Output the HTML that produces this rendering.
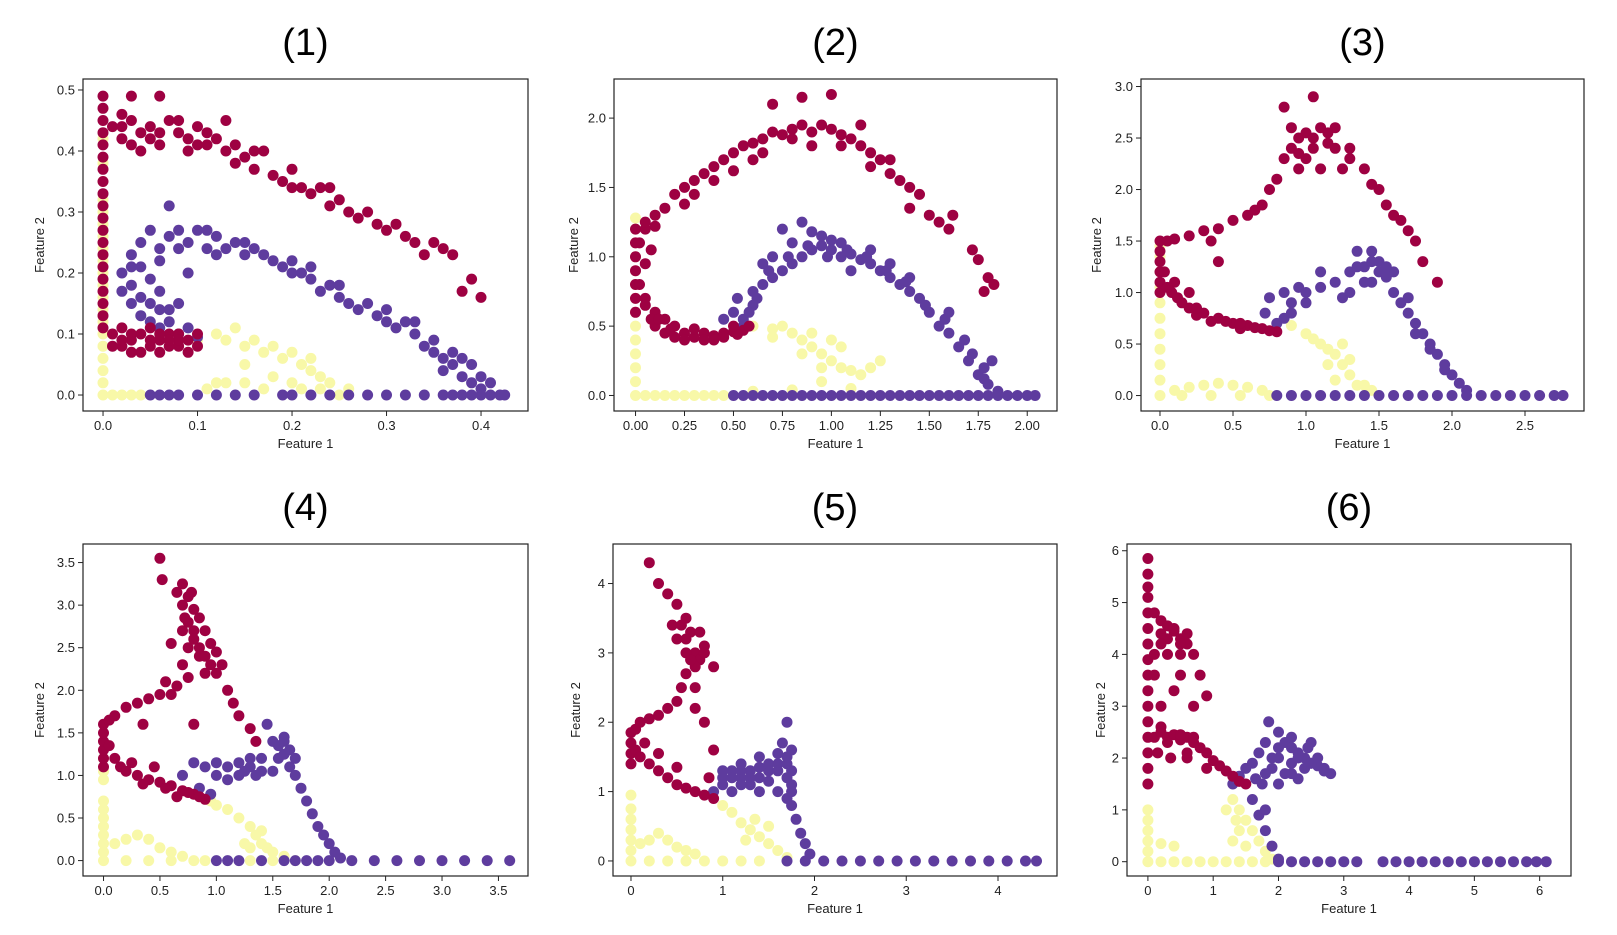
<!DOCTYPE html>
<html><head><meta charset="utf-8"><style>
body{margin:0;background:#fff;}
svg{display:block;font-family:"Liberation Sans",sans-serif;}
</style></head><body>
<svg id="fig" width="1617" height="935" xmlns="http://www.w3.org/2000/svg"></svg>
<script>
// ---------- data (Feature 1, Feature 2) per panel & class ----------
const p1Red=[[0,0.49],[0,0.47],[0,0.45],[0,0.43],[0,0.41],[0,0.39],[0,0.37],[0,0.35],[0,0.33],[0,0.31],[0,0.29],[0,0.27],[0,0.25],[0,0.23],[0,0.21],[0,0.19],[0,0.17],[0,0.15],[0,0.13],[0,0.11],
[0.01,0.44],[0.02,0.42],[0.03,0.45],[0.04,0.43],[0.05,0.44],[0.06,0.41],[0.07,0.45],[0.08,0.43],[0.09,0.42],[0.1,0.44],[0.11,0.41],[0.12,0.42],[0.13,0.4],[0.14,0.38],[0.15,0.39],[0.16,0.37],[0.17,0.4],[0.18,0.36],[0.19,0.35],[0.2,0.37],[0.21,0.34],[0.22,0.33],[0.23,0.34],[0.24,0.31],[0.25,0.32],[0.26,0.3],[0.27,0.29],[0.28,0.3],[0.3,0.27],[0.31,0.28],[0.32,0.26],[0.33,0.25],[0.35,0.25],[0.36,0.24],[0.37,0.23],[0.4,0.16],[0.39,0.19],[0.38,0.17],[0.06,0.49],[0.03,0.49],[0.13,0.45],[0.02,0.46],[0.04,0.4],[0.1,0.41],[0.16,0.4],[0.2,0.34],[0.24,0.34],[0.29,0.28],[0.34,0.23],
[0.02,0.44],[0.05,0.42],[0.08,0.45],[0.11,0.43],[0.14,0.41],[0.03,0.41],[0.06,0.43],[0.09,0.4],
[0.01,0.1],[0.02,0.08],[0.03,0.09],[0.04,0.1],[0.05,0.08],[0.06,0.09],[0.07,0.1],[0.08,0.08],[0.09,0.09],[0.1,0.1],[0.02,0.11],[0.05,0.11],[0.07,0.08],[0.04,0.07],[0.09,0.07],[0.03,0.1],[0.06,0.1],[0.08,0.1],
[0.01,0.08],[0.03,0.07],[0.06,0.07],[0.08,0.09],[0.1,0.08],[0.02,0.09],[0.05,0.09],[0.07,0.09]];
const p1Purple=[[0.02,0.2],[0.03,0.23],[0.02,0.17],[0.03,0.15],[0.04,0.13],[0.05,0.12],[0.06,0.11],[0.08,0.1],[0.1,0.095],[0.04,0.25],[0.05,0.27],[0.06,0.22],[0.07,0.26],[0.07,0.31],[0.08,0.24],[0.09,0.25],[0.1,0.27],[0.11,0.24],[0.12,0.26],[0.13,0.24],[0.14,0.25],[0.15,0.23],[0.16,0.24],[0.17,0.23],[0.18,0.22],[0.19,0.21],[0.2,0.2],[0.21,0.2],[0.22,0.19],[0.23,0.17],[0.24,0.18],[0.25,0.16],[0.26,0.15],[0.27,0.14],[0.28,0.15],[0.29,0.13],[0.3,0.12],[0.31,0.11],[0.32,0.12],[0.33,0.1],[0.34,0.08],[0.35,0.07],[0.36,0.06],[0.37,0.05],[0.38,0.03],[0.39,0.02],[0.4,0.01],[0.06,0.17],[0.08,0.15],[0.05,0.19],[0.09,0.2],[0.04,0.21],[0.07,0.14],[0.03,0.18],[0.11,0.27],[0.2,0.22],[0.36,0.04],[0.39,0.05],
[0.04,0.16],[0.05,0.15],[0.06,0.14],[0.07,0.12],[0.09,0.11],[0.03,0.21],[0.06,0.24],[0.08,0.27],[0.12,0.23],[0.15,0.25],[0.22,0.21],[0.25,0.18],[0.3,0.14],[0.33,0.12],[0.35,0.09],[0.37,0.07],[0.38,0.06],[0.4,0.03],[0.41,0.02],
[0.05,0],[0.06,0],[0.07,0],[0.08,0],[0.1,0],[0.12,0],[0.14,0],[0.16,0],[0.19,0],[0.2,0],[0.22,0],[0.24,0],[0.26,0],[0.28,0],[0.3,0],[0.32,0],[0.34,0],[0.36,0],[0.37,0],[0.38,0],[0.39,0],[0.4,0],[0.41,0],[0.42,0],[0.425,0]];
const p1Yellow=[[0,0],[0,0.02],[0,0.04],[0,0.06],[0,0.08],[0,0.1],[0,0.12],[0,0.14],[0,0.16],[0,0.18],[0,0.2],[0,0.22],[0,0.24],[0,0.26],[0,0.28],[0,0.3],[0,0.32],[0,0.35],[0,0.38],[0,0.42],
[0.01,0],[0.02,0],[0.03,0],[0.04,0],[0.11,0.01],[0.13,0.02],[0.15,0.02],[0.17,0.01],[0.21,0.01],[0.23,0.01],[0.25,0],
[0.1,0.09],[0.12,0.1],[0.13,0.09],[0.14,0.11],[0.15,0.08],[0.16,0.09],[0.17,0.07],[0.18,0.08],[0.19,0.06],[0.2,0.07],[0.21,0.05],[0.22,0.04],[0.23,0.03],[0.24,0.02],[0.2,0.02],[0.15,0.05],[0.12,0.02],[0.18,0.03],[0.22,0.06],[0.26,0.01]];

const p2Red=[[0.02,1.1],[0.05,1.2],[0.1,1.3],[0.15,1.35],[0.2,1.45],[0.25,1.5],[0.3,1.55],[0.35,1.6],[0.4,1.65],[0.45,1.7],[0.5,1.75],[0.55,1.8],[0.6,1.82],[0.65,1.85],[0.7,1.9],[0.75,1.88],[0.8,1.92],[0.85,1.95],[0.9,1.9],[0.95,1.95],[1.0,1.92],[1.05,1.88],[1.1,1.85],[1.15,1.8],[1.2,1.75],[1.25,1.7],[1.3,1.6],[1.35,1.55],[1.4,1.5],[1.45,1.45],[1.5,1.3],[1.55,1.25],[1.6,1.2],[1.62,1.3],[1.72,1.05],[1.75,0.98],[1.8,0.85],[1.83,0.8],[0.7,2.1],[0.85,2.15],[1.0,2.17],[0.6,1.7],[0.4,1.55],[0.9,1.8],[1.15,1.95],[1.3,1.7],[0.25,1.38],[0.5,1.62],[1.78,0.75],[0.05,1.25],[0.1,1.22],[0.08,1.05],[0.3,1.45],[0.65,1.75],[0.8,1.85],[1.05,1.8],[1.2,1.65],[1.4,1.35],
[0,0.6],[0,0.7],[0,0.8],[0,0.9],[0,1.0],[0,1.1],[0,1.2],[0.02,0.8],[0.05,0.7],[0.1,0.6],[0.15,0.55],[0.2,0.5],[0.25,0.45],[0.3,0.42],[0.35,0.45],[0.4,0.43],[0.45,0.45],[0.5,0.46],[0.55,0.47],[0.58,0.5],[0.1,0.5],[0.2,0.42],[0.3,0.48],[0.15,0.45],[0.4,0.4],[0.05,0.95],[0.08,0.55],[0.52,0.44],
[0.25,0.4],[0.35,0.4],[0.45,0.42],[0.5,0.5],[0.12,0.55],[0.18,0.48],[0.05,0.65]];
const p2Purple=[[0.55,0.5],[0.5,0.6],[0.52,0.7],[0.6,0.75],[0.65,0.8],[0.7,0.85],[0.75,0.9],[0.8,0.95],[0.85,1.0],[0.9,1.05],[0.95,1.08],[1.0,1.05],[1.05,1.0],[1.1,1.02],[1.15,0.98],[1.2,0.95],[1.25,0.9],[1.3,0.85],[1.35,0.8],[1.4,0.75],[1.45,0.7],[1.5,0.6],[1.55,0.5],[1.6,0.45],[1.65,0.35],[1.7,0.25],[1.75,0.15],[1.8,0.08],[1.85,0.03],[0.75,1.2],[0.85,1.25],[0.95,1.15],[0.7,1.0],[0.6,0.65],[0.8,1.1],[1.1,0.9],[1.3,0.95],[0.45,0.55],[0.65,0.95],[1.0,1.12],[1.2,1.05],[1.4,0.85],[1.6,0.6],[1.68,0.4],[1.78,0.2],[1.82,0.25],[0.9,1.18],[1.05,1.1],
[0.55,0.55],[0.58,0.6],[0.62,0.7],[0.68,0.9],[0.78,1.0],[0.88,1.08],[0.98,1.0],[1.08,1.05],[1.18,1.0],[1.28,0.9],[1.38,0.82],[1.48,0.65],[1.58,0.55],[1.72,0.3],[1.78,0.12],
[0.5,0],[0.55,0],[0.6,0],[0.65,0],[0.7,0],[0.75,0],[0.8,0],[0.85,0],[0.9,0],[0.95,0],[1.0,0],[1.05,0],[1.1,0],[1.15,0],[1.2,0],[1.25,0],[1.3,0],[1.35,0],[1.4,0],[1.45,0],[1.5,0],[1.55,0],[1.6,0],[1.65,0],[1.7,0],[1.75,0],[1.8,0],[1.85,0],[1.9,0],[1.95,0],[2.0,0],[2.04,0]];
const p2Yellow=[[0,0],[0,0.1],[0,0.2],[0,0.3],[0,0.4],[0,0.5],[0,0.6],[0,0.7],[0,0.8],[0,0.9],[0,1.0],[0,1.1],[0,1.2],[0,1.28],[0.05,0],[0.1,0],[0.15,0],[0.2,0],[0.25,0],[0.3,0],[0.35,0],[0.4,0],[0.45,0],
[0.6,0.5],[0.7,0.48],[0.75,0.5],[0.8,0.45],[0.85,0.4],[0.9,0.35],[0.95,0.3],[1.0,0.25],[1.05,0.2],[1.1,0.18],[1.15,0.15],[1.2,0.2],[0.9,0.45],[1.0,0.4],[0.7,0.42],[1.05,0.35],[1.25,0.25],[0.6,0.03],[0.8,0.04],[0.95,0.1],[1.1,0.05],[0.85,0.3],[0.95,0.2]];

const p3Red=[[0,1.0],[0,1.1],[0,1.2],[0,1.3],[0,1.4],[0,1.5],[0.05,1.5],[0.1,1.52],[0.2,1.55],[0.3,1.6],[0.4,1.62],[0.5,1.7],[0.6,1.75],[0.7,1.85],[0.75,2.0],[0.8,2.1],[0.85,2.3],[0.9,2.4],[0.95,2.5],[1.0,2.55],[1.05,2.5],[1.1,2.6],[1.15,2.45],[1.2,2.4],[1.3,2.3],[1.4,2.2],[1.5,2.0],[1.55,1.85],[1.6,1.75],[1.7,1.6],[1.75,1.5],[1.8,1.3],[1.9,1.1],[0.85,2.8],[1.05,2.9],[0.9,2.6],[1.0,2.3],[1.2,2.6],[0.95,2.2],[1.1,2.2],[1.25,2.2],[1.45,2.05],[0.65,1.8],[0.35,1.5],[1.65,1.7],
[1.05,2.4],[1.15,2.55],[0.95,2.35],[1.3,2.4],
[0.03,1.2],[0.08,1.0],[0.12,0.95],[0.2,0.85],[0.3,0.8],[0.4,0.75],[0.5,0.7],[0.6,0.68],[0.7,0.65],[0.8,0.62],[0.15,0.9],[0.25,0.78],[0.45,0.72],[0.55,0.65],[0.35,0.72],[0.1,1.1],[0.2,1.0],[0.4,1.3],
[0.55,0.7],[0.65,0.66],[0.75,0.63],[0.25,0.85],[0.05,1.05]];
const p3Purple=[[0.8,0.7],[0.72,0.8],[0.75,0.95],[0.85,1.0],[0.95,1.05],[1.0,1.0],[1.1,1.05],[1.2,1.1],[1.3,1.2],[1.4,1.25],[1.45,1.3],[1.5,1.2],[1.55,1.15],[1.6,1.0],[1.65,0.9],[1.7,0.8],[1.75,0.7],[1.8,0.6],[1.85,0.5],[1.9,0.4],[1.95,0.3],[2.0,0.2],[2.05,0.12],[2.1,0.05],[0.9,0.9],[1.1,1.2],[1.35,1.4],[1.45,1.1],[1.25,0.95],[0.85,0.75],[1.6,1.2],[1.7,0.95],
[1.3,1.0],[1.4,1.1],[1.5,1.3],[1.55,1.25],[1.35,1.25],[1.45,1.4],[1.75,0.6],[1.85,0.45],[1.95,0.25],[1.0,0.9],[0.9,0.8],
[0.8,0],[0.9,0],[1.0,0],[1.1,0],[1.2,0],[1.3,0],[1.4,0],[1.5,0],[1.6,0],[1.7,0],[1.8,0],[1.9,0],[2.0,0],[2.1,0],[2.2,0],[2.3,0],[2.4,0],[2.5,0],[2.6,0],[2.7,0],[2.76,0]];
const p3Yellow=[[0,0],[0,0.15],[0,0.3],[0,0.45],[0,0.6],[0,0.75],[0,0.9],[0,1.05],[0,1.2],[0,1.35],[0,1.45],[0.1,0.05],[0.2,0.08],[0.3,0.1],[0.4,0.12],[0.5,0.1],[0.6,0.08],[0.7,0.05],[0.15,0],[0.35,0],[0.55,0],[0.75,0],
[0.9,0.68],[1.0,0.6],[1.05,0.55],[1.1,0.5],[1.15,0.45],[1.2,0.4],[1.25,0.3],[1.3,0.2],[1.35,0.1],[1.15,0.3],[1.25,0.5],[1.3,0.35],[1.4,0.1],[1.45,0.05],[1.2,0.15]];

const p4Red=[[0,1.1],[0,1.2],[0,1.3],[0,1.4],[0,1.5],[0,1.6],[0.05,1.65],[0.1,1.7],[0.2,1.8],[0.3,1.85],[0.4,1.9],[0.5,1.95],[0.6,1.95],[0.65,2.05],[0.7,2.3],[0.75,2.5],[0.8,2.7],[0.7,3.0],[0.65,3.15],[0.7,3.25],[0.75,3.1],[0.8,2.95],[0.85,2.85],[0.9,2.7],[0.95,2.55],[1.0,2.45],[1.05,2.3],[0.9,2.2],[0.85,2.4],[0.5,3.55],[0.52,3.3],[1.1,2.0],[1.15,1.85],[1.2,1.7],[1.3,1.55],[1.35,1.4],[1.0,2.2],[0.75,2.15],[0.6,2.55],[0.55,2.1],[0.35,1.6],[0.8,1.6],
[0.75,2.8],[0.8,2.6],[0.85,2.5],[0.9,2.4],[0.95,2.3],[0.7,2.7],[0.78,3.15],[0.72,2.85],
[0.05,1.35],[0.1,1.2],[0.15,1.1],[0.2,1.05],[0.3,1.0],[0.4,0.95],[0.5,0.92],[0.6,0.88],[0.7,0.82],[0.8,0.78],[0.9,0.72],[0.25,1.15],[0.45,1.1],[0.35,0.9],[0.65,0.75],
[0.55,0.85],[0.75,0.8],[0.85,0.75]];
const p4Purple=[[0.7,1.0],[0.8,1.15],[0.9,1.1],[1.0,1.15],[1.1,1.1],[1.2,1.15],[1.3,1.1],[1.4,1.2],[1.5,1.4],[1.55,1.35],[1.6,1.25],[1.65,1.1],[1.7,1.0],[1.75,0.85],[1.8,0.7],[1.85,0.55],[1.9,0.4],[1.95,0.3],[2.0,0.2],[2.05,0.1],[2.1,0.03],[1.35,1.0],[0.85,0.85],[1.1,0.95],[0.95,0.78],[1.45,1.6],[1.25,1.05],[1.6,1.45],[1.5,1.05],
[1.55,1.2],[1.6,1.4],[1.65,1.3],[1.7,1.2],[1.0,1.0],[1.2,1.0],[1.4,1.05],[1.3,1.2],
[1.0,0],[1.1,0],[1.2,0],[1.4,0],[1.6,0],[1.7,0],[1.8,0],[1.9,0],[2.0,0],[2.2,0],[2.4,0],[2.6,0],[2.8,0],[3.0,0],[3.2,0],[3.4,0],[3.6,0]];
const p4Yellow=[[0,0],[0,0.1],[0,0.2],[0,0.3],[0,0.4],[0,0.5],[0,0.6],[0,0.7],[0,0.95],[0,1.05],[0,1.2],[0.1,0.2],[0.2,0.25],[0.3,0.3],[0.4,0.25],[0.5,0.15],[0.6,0.1],[0.7,0.05],[0.2,0],[0.4,0],[0.6,0],[0.8,0],[0.9,0],[1.3,0],[1.5,0],[1.7,0],
[0.95,0.7],[1.0,0.65],[1.1,0.6],[1.2,0.5],[1.3,0.4],[1.35,0.3],[1.4,0.2],[1.45,0.15],[1.5,0.1],[1.4,0.35],[1.6,0.05],[1.3,0.15],[1.25,0.2]];

const p5Red=[[0,1.4],[0,1.55],[0,1.7],[0,1.85],[0.05,1.9],[0.1,2.0],[0.2,2.05],[0.3,2.1],[0.4,2.2],[0.5,2.3],[0.55,2.5],[0.6,2.7],[0.7,3.0],[0.8,3.1],[0.75,2.9],[0.6,3.5],[0.5,3.7],[0.4,3.85],[0.3,4.0],[0.2,4.3],[0.5,3.2],[0.7,2.5],[0.8,2.0],[0.9,1.6],[0.85,1.2],[0.65,3.3],[0.45,3.4],[0.6,3.0],[0.7,2.2],[0.9,2.8],
[0.6,3.2],[0.7,2.8],[0.55,3.4],[0.65,2.9],[0.75,3.3],[0.8,3.0],
[0.05,1.6],[0.1,1.5],[0.2,1.4],[0.3,1.3],[0.4,1.2],[0.5,1.1],[0.6,1.05],[0.7,1.0],[0.8,0.95],[0.9,0.9],[0.15,1.7],[0.3,1.55],[0.5,1.35]];
const p5Purple=[[0.9,1.0],[1.0,1.1],[1.1,1.3],[1.2,1.2],[1.3,1.3],[1.4,1.35],[1.5,1.3],[1.6,1.4],[1.7,1.5],[1.75,1.3],[1.75,1.1],[1.7,0.9],[1.6,1.0],[1.5,1.15],[1.3,1.1],[1.1,1.0],[1.2,1.4],[1.4,1.5],[1.65,1.7],[1.75,1.6],[1.7,2.0],[1.75,0.8],[1.8,0.6],[1.85,0.4],[1.9,0.25],[1.95,0.1],[1.0,1.3],[1.6,1.55],
[1.0,1.2],[1.1,1.2],[1.2,1.3],[1.3,1.2],[1.4,1.2],[1.5,1.4],[1.6,1.3],[1.7,1.2],[1.75,1.0],[1.7,1.4],[1.2,1.1],[1.4,1.0],
[1.7,0],[1.9,0],[2.1,0],[2.3,0],[2.5,0],[2.7,0],[2.9,0],[3.1,0],[3.3,0],[3.5,0],[3.7,0],[3.9,0],[4.1,0],[4.3,0],[4.42,0]];
const p5Yellow=[[0,0],[0,0.15],[0,0.3],[0,0.45],[0,0.6],[0,0.75],[0,0.95],[0.1,0.25],[0.2,0.3],[0.3,0.4],[0.4,0.3],[0.5,0.2],[0.6,0.15],[0.7,0.1],[0.2,0],[0.4,0],[0.6,0],[0.8,0],[1.0,0],[1.2,0],[1.4,0],
[1.0,0.8],[1.1,0.7],[1.2,0.55],[1.3,0.45],[1.4,0.35],[1.5,0.25],[1.6,0.15],[1.7,0.05],[1.35,0.6],[1.5,0.5],[1.25,0.3]];

const p6Red=[[0,1.5],[0,1.8],[0,2.1],[0,2.4],[0,2.7],[0,3.0],[0,3.3],[0,3.6],[0,3.9],[0,4.2],[0,4.5],[0,4.8],[0,5.1],[0,5.3],[0,5.55],[0,5.85],
[0.1,4.8],[0.2,4.65],[0.3,4.55],[0.4,4.45],[0.5,4.3],[0.6,4.2],[0.7,4.0],[0.8,3.6],[0.9,3.2],[0.3,4.3],[0.5,4.0],[0.2,4.4],[0.1,4.0],[0.3,4.0],[0.5,3.6],[0.7,3.0],[0.4,3.3],[0.2,3.0],[0.1,3.6],
[0.2,4.2],[0.4,4.5],[0.6,4.4],[0.5,4.2],
[0.1,2.4],[0.2,2.5],[0.3,2.4],[0.4,2.45],[0.5,2.35],[0.6,2.4],[0.7,2.3],[0.8,2.2],[0.9,2.1],[1.0,1.95],[1.1,1.85],[1.2,1.75],[1.3,1.65],[1.4,1.55],[1.5,1.5],[0.15,2.1],[0.35,2.0],[0.6,2.0],[0.9,1.8],
[0.3,2.3],[0.5,2.45],[0.7,2.4],[0.2,2.6],[0.6,2.1]];
const p6Purple=[[1.3,1.5],[1.4,1.65],[1.5,1.8],[1.6,1.9],[1.7,2.1],[1.8,2.3],[1.85,2.7],[2.0,2.5],[2.1,2.3],[2.2,2.2],[2.3,2.1],[2.4,2.0],[2.5,1.9],[2.6,1.85],[2.7,1.75],[2.8,1.7],[1.9,1.8],[2.1,1.7],[2.3,1.6],[2.0,2.0],[2.2,1.9],[2.45,2.2],[1.6,1.2],[1.7,0.9],[1.8,0.6],[1.9,0.3],[2.0,0.05],[1.75,1.5],[2.5,2.3],[1.65,1.6],
[1.9,2.0],[2.0,2.2],[2.2,2.4],[2.3,2.0],[2.4,1.8],[2.5,1.9],[2.6,2.0],[2.2,1.7],[2.0,1.5],[1.8,1.7],[2.7,1.8],[1.8,1.0],
[2.0,0],[2.2,0],[2.4,0],[2.6,0],[2.8,0],[3.0,0],[3.2,0],[3.6,0],[3.8,0],[4.0,0],[4.2,0],[4.4,0],[4.6,0],[4.8,0],[5.0,0],[5.2,0],[5.4,0],[5.6,0],[5.8,0],[5.95,0],[6.1,0]];
const p6Yellow=[[0,0],[0,0.2],[0,0.4],[0,0.6],[0,0.8],[0,1.0],[0.2,0],[0.4,0],[0.6,0],[0.8,0],[1.0,0],[1.2,0],[1.4,0],[1.6,0],[1.8,0],[0.2,0.35],[0.4,0.3],
[1.2,1.0],[1.3,1.2],[1.4,1.0],[1.5,0.8],[1.6,0.6],[1.7,0.4],[1.8,0.2],[1.4,0.6],[1.3,0.4],[1.5,0.3],[1.9,0.05],[1.35,0.8]];

// tick labels
const p1XTicks=[0.0,0.1,0.2,0.3,0.4], p1YTicks=[0.0,0.1,0.2,0.3,0.4,0.5];
const p2XTicks=[0,0.25,0.5,0.75,1.0,1.25,1.5,1.75,2.0], p2YTicks=[0,0.5,1.0,1.5,2.0];
const p3XTicks=[0,0.5,1.0,1.5,2.0,2.5], p3YTicks=[0,0.5,1.0,1.5,2.0,2.5,3.0];
const p4XTicks=[0,0.5,1.0,1.5,2.0,2.5,3.0,3.5], p4YTicks=[0,0.5,1.0,1.5,2.0,2.5,3.0,3.5];
const p5XTicks=[0,1,2,3,4], p5YTicks=[0,1,2,3,4];
const p6XTicks=[0,1,2,3,4,5,6], p6YTicks=[0,1,2,3,4,5,6];

const COL={red:'#9e0142',purple:'#5e3c9e',yellow:'#f8f8a8'};
const NS='http://www.w3.org/2000/svg';
const svg=document.getElementById('fig');
function mk(t,a,p){const e=document.createElementNS(NS,t);for(const k in a)e.setAttribute(k,a[k]);(p||svg).appendChild(e);return e;}

const panels=[
 {t:'(1)',box:[83,79,528,411],xd:[-0.0212,0.4497],yd:[-0.0262,0.518],xt:p1XTicks,yt:p1YTicks,xf:1,yf:1,s:[p1Yellow,p1Purple,p1Red],ylx:44},
 {t:'(2)',box:[614,79,1057,411],xd:[-0.110,2.152],yd:[-0.112,2.282],xt:p2XTicks,yt:p2YTicks,xf:2,yf:1,s:[p2Yellow,p2Purple,p2Red],ylx:578},
 {t:'(3)',box:[1141,79,1584,411],xd:[-0.130,2.904],yd:[-0.15,3.073],xt:p3XTicks,yt:p3YTicks,xf:1,yf:1,s:[p3Yellow,p3Purple,p3Red],ylx:1101},
 {t:'(4)',box:[83,544,528,876],xd:[-0.182,3.762],yd:[-0.181,3.718],xt:p4XTicks,yt:p4YTicks,xf:1,yf:1,s:[p4Yellow,p4Purple,p4Red],ylx:44},
 {t:'(5)',box:[613,544,1057,876],xd:[-0.196,4.643],yd:[-0.217,4.57],xt:p5XTicks,yt:p5YTicks,xf:0,yf:0,s:[p5Yellow,p5Purple,p5Red],ylx:580},
 {t:'(6)',box:[1127,544,1571,876],xd:[-0.32,6.48],yd:[-0.276,6.13],xt:p6XTicks,yt:p6YTicks,xf:0,yf:0,s:[p6Yellow,p6Purple,p6Red],ylx:1105}
];
const cls=['yellow','purple','red'];
panels.forEach((P,i)=>{
 const [x0,y0,x1,y1]=P.box;
 const g=mk('g',{});
 
 
 const sx=v=>x0+(v-P.xd[0])/(P.xd[1]-P.xd[0])*(x1-x0);
 const sy=v=>y1-(v-P.yd[0])/(P.yd[1]-P.yd[0])*(y1-y0);
 const title=mk('text',{x:(x0+x1)/2,y:y0-24,'text-anchor':'middle','font-size':38,fill:'#000'},g);
 title.textContent=P.t;
 
 
 P.s.forEach((arr,k)=>{
  const sg=mk('g',{fill:COL[cls[k]]},g);
  
  
  arr.forEach(d=>{
   const c=mk('circle',{cx:sx(d[0]).toFixed(1),cy:sy(d[1]).toFixed(1),r:5.5},sg);
   
   
  });
 });
 const fr=mk('rect',{x:x0,y:y0,width:x1-x0,height:y1-y0,fill:'none',stroke:'#222','stroke-width':1.2},g);
 
 
 P.xt.forEach(v=>{
  const x=sx(v);
  mk('line',{x1:x,x2:x,y1:y1,y2:y1+5,stroke:'#222'},g);
  const t=mk('text',{x:x,y:y1+19,'text-anchor':'middle','font-size':13,fill:'#222'},g);
  t.textContent=v.toFixed(P.xf);
  
  
 });
 P.yt.forEach(v=>{
  const y=sy(v);
  mk('line',{x1:x0-5,x2:x0,y1:y,y2:y,stroke:'#222'},g);
  const t=mk('text',{x:x0-8,y:y+4.5,'text-anchor':'end','font-size':13,fill:'#222'},g);
  t.textContent=v.toFixed(P.yf);
  
  
 });
 const xl=mk('text',{x:(x0+x1)/2,y:y1+37,'text-anchor':'middle','font-size':13,fill:'#222'},g);
 xl.textContent='Feature 1';
 
 
 const yc=(y0+y1)/2;
 const yl=mk('text',{x:P.ylx,y:yc,'text-anchor':'middle','font-size':13,fill:'#222',transform:`rotate(-90 ${P.ylx} ${yc})`},g);
 yl.textContent='Feature 2';
 
 
});
</script>
</body></html>
